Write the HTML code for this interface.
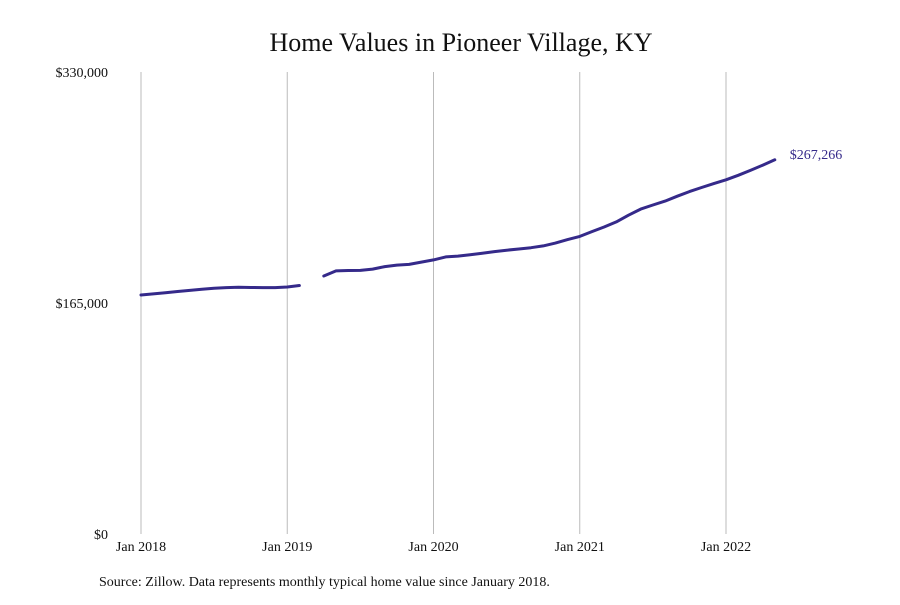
<!DOCTYPE html>
<html><head><meta charset="utf-8"><style>
body{margin:0;background:#fff;width:900px;height:600px;overflow:hidden;font-family:"Liberation Serif",serif;}
</style></head><body>
<svg id="chart" width="900" height="600" xmlns="http://www.w3.org/2000/svg">
<rect width="900" height="600" fill="#fff"/>
<text x="461" y="51" text-anchor="middle" font-size="26" fill="#111">Home Values in Pioneer Village, KY</text>
<g id="grid"></g><g id="yaxis"></g><g id="xaxis"></g><g id="series"></g>
<text x="99" y="586" font-size="14" fill="#111">Source: Zillow. Data represents monthly typical home value since January 2018.</text>
</svg>
<script>
const values = [170.7,171.5,172.3,173.2,174,174.8,175.5,176,176.2,176.1,176,176,
176.4,177.5,null,184.3,187.9,188.2,188.3,189.2,191,192.1,192.6,194.2,
195.8,197.9,198.5,199.5,200.6,201.7,202.7,203.6,204.5,205.8,207.8,210.3,
212.6,216,219.3,222.9,227.7,232.1,235,237.8,241.3,244.6,247.5,250.3,
253,256.2,259.7,263.4,267.266];
const yTicks = [0,165000,330000];
const yTickLabels = ["$0","$165,000","$330,000"];
const xTickMonths = [0,12,24,36,48];
const xTickLabels = ["Jan 2018","Jan 2019","Jan 2020","Jan 2021","Jan 2022"];
const lastLabel = "$267,266";

const NS="http://www.w3.org/2000/svg";
const x = m => 141 + m*(585/48);
const y = v => 534 - v*(462/330000);
function mk(tag, attrs, parent, txt){const e=document.createElementNS(NS,tag);for(const k in attrs)e.setAttribute(k,attrs[k]);if(txt!==undefined)e.textContent=txt;document.getElementById(parent).appendChild(e);return e;}
xTickMonths.forEach((m,i)=>{
  const l=mk('line',{x1:x(m),x2:x(m),y1:72,y2:534,stroke:'#bbb','stroke-width':1},'grid');
  
  
  const t=mk('text',{x:x(m),y:551,'text-anchor':'middle','font-size':14,fill:'#111'},'xaxis',xTickLabels[i]);
  
  
});
yTicks.forEach((v,i)=>{
  const t=mk('text',{x:108,y:y(v)+5,'text-anchor':'end','font-size':14,fill:'#111'},'yaxis',yTickLabels[i]);
  
  
});
let segs=[],cur=[];
values.forEach((v,i)=>{if(v===null){if(cur.length)segs.push(cur);cur=[];}else cur.push([x(i),y(v*1000)]);});
if(cur.length)segs.push(cur);
segs.forEach(s=>{
  const p=mk('path',{d:'M'+s.map(q=>q[0].toFixed(1)+','+q[1].toFixed(1)).join('L'),fill:'none',stroke:'#352a8a','stroke-width':3,'stroke-linejoin':'round','stroke-linecap':'round'},'series');
  
  
});
const li=values.length-1;
const lt=mk('text',{x:x(li)+15,y:y(values[li]*1000)-1,'font-size':14,fill:'#352a8a'},'series',lastLabel);


</script>
</body></html>
